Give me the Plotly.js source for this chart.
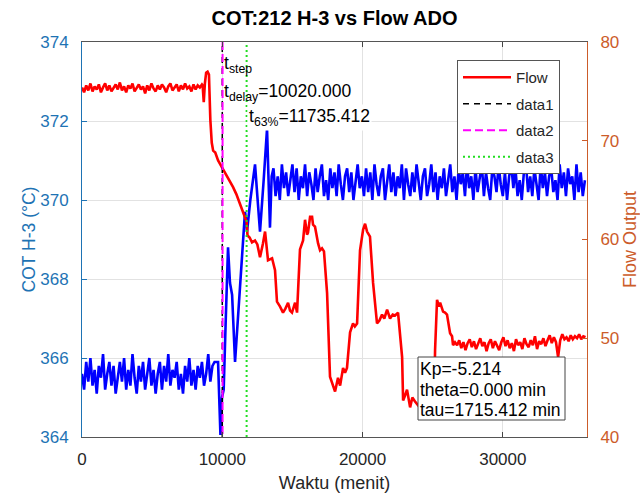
<!DOCTYPE html>
<html>
<head>
<meta charset="utf-8">
<script src="https://cdn.plot.ly/plotly-3.0.1.min.js"></script>
<style>html,body{margin:0;padding:0;background:#fff;}#chart{width:640px;height:493px;}</style>
</head>
<body>
<div id="chart"></div>
<script>
// ---------- DATA ----------
// COT H-3 (left axis) : steady noisy section before the step
const cotStartA = 0, cotStepA = 150;
const cotA = [365.6,365.2,365.9,365.4,366.0,365.3,365.7,365.1,365.8,365.5,366.1,365.2,365.6,365.9,365.3,365.8,365.1,365.5,365.9,365.4,366.0,365.2,365.7,365.3,366.1,365.5,365.1,365.8,365.4,365.9,365.2,365.6,366.0,365.3,365.7,365.1,365.6,365.9,365.2,365.8,365.4,366.1,365.3,365.7,365.5,365.9,365.2,365.6,365.1,365.8,365.4,366.0,365.3,365.7,365.2,365.8,365.5,365.9,365.3,365.6,366.1,365.4,365.8,365.9];
// COT transient
const cotTimeB = [9700,9800,9870,9980,10100,10250,10410,10550,10700,10910,11250,11620,11700,11765,12000,12335,12500,12690,12950,13190,13400,13520];
const cotB = [365.9,364.8,364.05,365.0,365.2,367.0,368.8,367.9,367.6,365.9,367.8,369.7,369.5,369.2,370.0,370.9,370.1,369.2,370.5,371.8,369.3,370.6];
// COT steady noisy section after the step
const cotStartC = 13650, cotStepC = 150;
const cotC = [370.8,370.1,370.6,370.0,370.9,370.3,370.7,370.1,370.5,370.9,370.2,370.8,370.0,370.6,370.3,370.9,370.1,370.7,370.4,370.0,370.8,370.2,370.6,370.9,370.1,370.5,370.0,370.8,370.3,370.7,370.1,370.9,370.4,370.0,370.6,370.8,370.2,370.7,370.0,370.5,370.9,370.3,370.6,370.1,370.8,370.2,370.7,370.0,370.9,370.4,370.1,370.6,370.8,370.0,370.5,370.9,370.2,370.7,370.1,370.6,370.3,370.9,370.0,370.8,370.4,370.1,370.7,370.2,370.9,370.5,370.0,370.6,370.8,370.1,370.4,370.9,370.2,370.7,370.0,370.6,370.3,370.8,370.1,370.5,370.9,370.2,370.6,370.0,370.8,370.4,370.7,370.1,370.9,370.3,370.6,370.0,370.8,370.2,370.5,370.9,370.1,370.7,370.3,370.0,370.8,370.6,370.2,370.9,370.4,370.1,370.7,370.0,370.6,370.9,370.3,370.8,370.1,370.5,370.0,370.7,370.9,370.2,370.6,370.1,370.8,370.4,370.0,370.9,370.3,370.7,370.1,370.6,370.8,370.2,370.5,370.0,370.9,370.3,370.7,370.1,370.8,370.4,370.6,370.0,370.9,370.2,370.7,370.1,370.5];

// Flow (right axis)
const flowStartA = 0, flowStepA = 150;
const flowA = [75.4,74.9,75.6,75.1,75.8,75.0,75.5,75.2,75.7,74.9,75.4,75.8,75.1,75.6,75.0,75.3,75.7,75.2,75.9,75.1,75.5,74.9,75.6,75.3,75.8,75.0,75.4,75.7,75.2,75.5,74.8,75.6,75.1,75.8,75.3,75.0,75.6,75.2,75.7,75.4,74.9,75.5,75.8,75.1,75.4,75.7,75.0,75.6,75.2,75.8,75.3,75.5,75.0,75.7,75.2,75.6,75.4,75.7];
const flowTimeB = [8600,8680,8760,8850,8950,9050,9150,9250,9350,9500,9700,9980,10340,10770,11000,11270,11480,11650,11735,11800,11950,12120,12335,12500,12690,12900,13050,13260,13550,13760,13900,14120,14330,14500,14690,14830,14970,15190,15330,15540,15760,15900,16040,16110,16260,16400,16470,16610,16760,16830,16970,17110,17250,17470,17680,17850,18040,18250,18400,18610,18750,18890,19110,19320,19450,19610,19820,20040,20180,20320,20530,20750,21030,21200,21390,21550,21750,21960,22150,22320,22530,22820,22890,23030,23170,23390,23550,23740,23960,24200,24500,24800,25100,25170,25310,25450,25530,25740,25880,26020,26240,26380,26450,26590];
const flowB = [75.6,73.9,75.8,76.9,77.0,76.7,72.1,69.8,69.0,68.8,68.0,67.3,66.5,65.3,64.6,63.6,62.8,62.2,61.8,60.4,60.2,59.7,59.9,59.5,58.2,59.6,60.8,57.9,58.1,56.9,53.7,53.2,52.6,53.0,53.6,52.8,52.6,53.6,52.6,59.0,59.9,62.0,60.5,60.7,62.3,62.3,61.5,61.3,59.9,59.6,58.9,59.1,58.8,54.6,46.1,45.4,44.6,46.0,45.2,47.0,46.5,47.0,50.6,51.5,51.2,51.5,58.9,61.0,61.6,60.8,60.3,55.6,51.5,51.8,52.4,52.0,52.9,52.0,52.4,52.3,52.6,48.1,43.7,44.2,44.8,43.0,44.0,43.6,43.2,43.5,43.2,43.6,43.4,48.8,53.9,53.2,53.6,52.7,52.6,52.4,50.5,50.2,49.3,49.6];
const flowStartC = 26740, flowStepC = 150;
const flowC = [49.3,49.8,49.0,49.6,48.8,49.5,49.9,49.1,49.7,48.9,49.4,50.0,49.2,49.6,48.7,49.5,49.9,49.0,49.7,49.3,48.8,49.6,50.1,49.2,49.8,49.0,49.5,48.7,49.9,49.3,49.6,48.9,50.0,49.4,49.1,49.8,49.3,50.2,48.9,49.7,49.4,50.0,49.2,49.8,50.3,49.5,50.1,49.6,48.1,49.8,50.4,49.9,50.1,49.7,50.3,49.9,50.2,50.0,50.4,49.9,50.2,50.1];

// Vertical markers
const tStep = 10000, tDelay = 10020, t63 = 11735.412;
const flowLimits = [40, 80];
const cotTicks = [364,366,368,370,372,374];
const flowTicks = [40,50,60,70,80];
const timeTicks = [0,10000,20000,30000];
const legendNames = ['Flow','data1','data2','data3'];
const resultLines = ['Kp=-5.214','theta=0.000 min','tau=1715.412 min'];

// ---------- BUILD ----------
const times = (start, step, n) => Array.from({length:n}, (_, i) => start + i*step);
const cotX = [].concat(times(cotStartA, cotStepA, cotA.length), cotTimeB, times(cotStartC, cotStepC, cotC.length));
const cotY = [].concat(cotA, cotB, cotC);
const flowX = [].concat(times(flowStartA, flowStepA, flowA.length), flowTimeB, times(flowStartC, flowStepC, flowC.length));
const flowY = [].concat(flowA, flowB, flowC);

const BLUE_AX = 'rgb(30,115,180)';
const ORANGE_AX = 'rgb(204,92,42)';

const traces = [
  {x: cotX, y: cotY, type:'scatter', mode:'lines', line:{color:'#0000ff', width:2.6}, showlegend:false, yaxis:'y', hoverinfo:'skip'},
  {x: flowX, y: flowY, type:'scatter', mode:'lines', name:legendNames[0], line:{color:'#ff0000', width:2.6}, yaxis:'y2', legendgroup:'a'},
  {x: [tStep, tStep], y: flowLimits, type:'scatter', mode:'lines', name:legendNames[1], line:{color:'#000000', width:1.5, dash:'6px,5px'}, yaxis:'y2', legendgroup:'b'},
  {x: [tDelay, tDelay], y: [flowLimits[1], flowLimits[0]], type:'scatter', mode:'lines', name:legendNames[2], line:{color:'#ff00ff', width:2, dash:'8px,4px'}, yaxis:'y2', legendgroup:'c'},
  {x: [t63, t63], y: flowLimits, type:'scatter', mode:'lines', name:legendNames[3], line:{color:'#22dd22', width:2, dash:'2px,3px'}, yaxis:'y2', legendgroup:'d'}
];

// pixel helpers for placing text boxes relative to the plot area (not data marks)
const PL = 82, PW = 505, PT = 42, PH = 395;
const px = v => (v - PL) / PW;
const py = v => (PT + PH - v) / PH;

const FONT = 'Liberation Sans, Arial, Helvetica, sans-serif';
const layout = {
  width:640, height:493,
  margin:{l:82, r:53, t:42, b:56},
  paper_bgcolor:'#ffffff', plot_bgcolor:'#ffffff',
  font:{family:FONT, size:17, color:'#262626'},
  title:{text:'<b>COT:212 H-3 vs Flow ADO</b>', font:{family:FONT, size:20, color:'#000000'}, x:0.5, xref:'paper', xanchor:'center', y:1-18/493, yanchor:'middle'},
  showlegend:true,
  legend:{x:px(457), y:py(60), xanchor:'left', yanchor:'top', bgcolor:'#ffffff', bordercolor:'#555555', borderwidth:1, font:{family:FONT, size:15, color:'#262626'}, tracegroupgap:4, itemwidth:48, entrywidth:105, entrywidthmode:'pixels'},
  xaxis:{range:[0,36000], tickvals:timeTicks, tickformat:'d', ticks:'inside', ticklen:5, tickcolor:'#444', showline:true, linecolor:'#555', linewidth:1, mirror:'ticks', showgrid:true, gridcolor:'#e2e2e2', zeroline:false, tickfont:{size:17, color:'#262626'}, ticklabelstandoff:7, title:{text:'Waktu (menit)', font:{size:18, color:'#262626'}, standoff:8}, automargin:false},
  yaxis:{range:[364,374], tickvals:cotTicks, ticks:'inside', ticklen:5, tickcolor:BLUE_AX, showline:true, linecolor:BLUE_AX, linewidth:1, mirror:false, showgrid:true, gridcolor:'#e2e2e2', zeroline:false, tickfont:{size:17, color:BLUE_AX}, ticklabelstandoff:9, title:{text:'COT H-3 (°C)', font:{size:17.5, color:BLUE_AX}, standoff:0}, automargin:false},
  yaxis2:{range:flowLimits, tickvals:flowTicks, overlaying:'y', side:'right', ticks:'inside', ticklen:5, tickcolor:ORANGE_AX, showline:true, linecolor:ORANGE_AX, linewidth:1, showgrid:false, zeroline:false, tickfont:{size:17, color:ORANGE_AX}, ticklabelstandoff:9, title:{text:'Flow Output', font:{size:18, color:ORANGE_AX}, standoff:6}, automargin:false},
  shapes:[
    {type:'rect', xref:'paper', yref:'paper', x0:px(418), x1:px(565), y0:py(420), y1:py(357), fillcolor:'#ffffff', line:{color:'#444444', width:1}, layer:'above'}
  ],
  annotations:[
    {x:tStep, y:373.42, xref:'x', yref:'y', text:'t<sub>step</sub>', showarrow:false, xanchor:'left', yanchor:'middle', font:{size:17.5, color:'#000'}},
    {x:tStep, y:372.73, xref:'x', yref:'y', text:'t<sub>delay</sub>=10020.000', showarrow:false, xanchor:'left', yanchor:'middle', font:{size:17.5, color:'#000'}},
    {x:t63, y:372.10, xref:'x', yref:'y', text:'t<sub>63%</sub>=11735.412', showarrow:false, xanchor:'left', yanchor:'middle', bgcolor:'#ffffff', font:{size:17.5, color:'#000'}},
    {x:px(419), y:py(369), xref:'paper', yref:'paper', text:resultLines[0], showarrow:false, xanchor:'left', yanchor:'middle', borderpad:0, font:{size:17.5, color:'#000'}},
    {x:px(419), y:py(390), xref:'paper', yref:'paper', text:resultLines[1], showarrow:false, xanchor:'left', yanchor:'middle', borderpad:0, font:{size:17.5, color:'#000'}},
    {x:px(419), y:py(410), xref:'paper', yref:'paper', text:resultLines[2], showarrow:false, xanchor:'left', yanchor:'middle', borderpad:0, font:{size:17.5, color:'#000'}}
  ]
};

Plotly.newPlot('chart', traces, layout, {staticPlot:true, displayModeBar:false});
</script>
</body>
</html>
